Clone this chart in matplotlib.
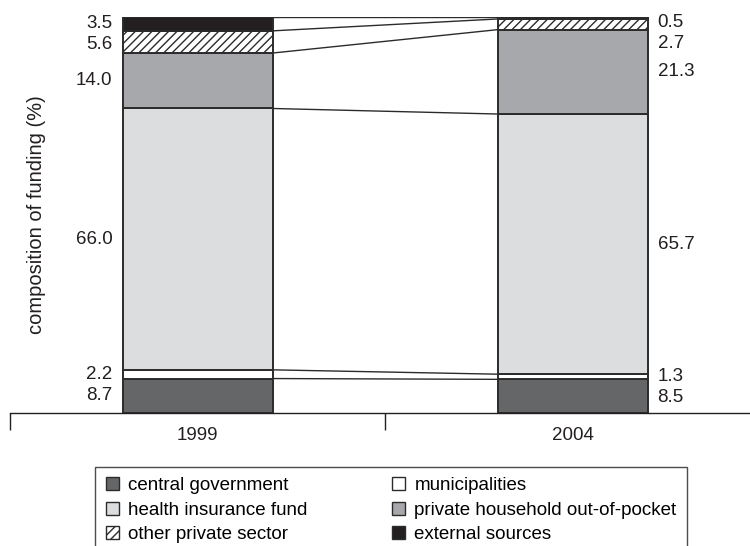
import matplotlib
matplotlib.use("Agg")
import matplotlib.pyplot as plt
from matplotlib.patches import Patch

plt.rcParams['font.family'] = ['Liberation Sans', 'DejaVu Sans']
plt.rcParams['hatch.linewidth'] = 1.0

years = ['1999', '2004']
sources = ['central government', 'municipalities', 'health insurance fund',
           'private household out-of-pocket', 'other private sector', 'external sources']
values_1999 = [8.7, 2.2, 66.0, 14.0, 5.6, 3.5]
values_2004 = [8.5, 1.3, 65.7, 21.3, 2.7, 0.5]
colors = ['#656668', '#ffffff', '#dcdddf', '#a7a8ab', '#ffffff', '#231f20']
hatches = [None, None, None, None, '////', None]

fig = plt.figure(figsize=(7.5, 5.46), dpi=100)
ax = fig.add_axes([10 / 750, (546 - 413) / 546, 750 / 750, (413 - 17) / 546])

xpos = [0.5, 1.5]
width = 0.4
edge = '#2b2b2b'
fs = 13.5


def cum(vals):
    out = [0]
    for v in vals:
        out.append(out[-1] + v)
    return out


def spread(centers, gap=5.3, top=98.7):
    # push labels apart from the top down
    ys = []
    prev = None
    for c in centers[::-1]:
        y = min(c, top) if prev is None else min(c, prev - gap)
        ys.append(y)
        prev = y
    return ys[::-1]


for x, vals in zip(xpos, [values_1999, values_2004]):
    bottoms = cum(vals)
    for v, b, c, h in zip(vals, bottoms, colors, hatches):
        ax.bar(x, v, width=width, bottom=b, color=c, edgecolor=edge,
               linewidth=1.4, hatch=h, zorder=2)

# connecting lines between the bars
c99 = cum(values_1999)
c04 = cum(values_2004)
for a, b in zip(c99[1:], c04[1:]):
    ax.plot([xpos[0] + width / 2, xpos[1] - width / 2], [a, b],
            color='#2b2b2b', lw=1.0, zorder=1)

# value labels
cen99 = [b + v / 2 for v, b in zip(values_1999, c99)]
cen04 = [b + v / 2 for v, b in zip(values_2004, c04)]
for v, y in zip(values_1999, spread(cen99)):
    ax.text(xpos[0] - width / 2 - 0.027, y, f'{v:.1f}', ha='right', va='center',
            fontsize=fs, color='#231f20')
for v, y in zip(values_2004, spread(cen04)):
    ax.text(xpos[1] + width / 2 + 0.027, y, f'{v:.1f}', ha='left', va='center',
            fontsize=fs, color='#231f20')

ax.set_xlim(0, 2)
ax.set_ylim(0, 100)
ax.set_xticks([0, 1, 2])
ax.set_xticklabels(['', '', ''])
ax.set_xticks(xpos, minor=True)
ax.set_xticklabels(years, minor=True, fontsize=fs, color='#231f20')
ax.tick_params(axis='x', which='major', length=12, width=1, color='#231f20', direction='out')
ax.tick_params(axis='x', which='minor', length=0, pad=10)
ax.set_yticks([])
for s in ['left', 'right', 'top']:
    ax.spines[s].set_visible(False)
ax.spines['bottom'].set_color('#231f20')
ax.spines['bottom'].set_linewidth(1)

fig.text(37 / 750, 1 - 215 / 546, 'composition of funding (%)', rotation=90,
         ha='center', va='center', fontsize=14.5, color='#231f20')

order = [0, 2, 4, 1, 3, 5]
handles = [Patch(facecolor=colors[i], edgecolor=edge, hatch=hatches[i], linewidth=1)
           for i in order]
labels = [sources[i] for i in order]
leg = fig.legend(handles, labels, ncol=2, loc='upper center',
                 bbox_to_anchor=(391 / 750, 1 - 467 / 546), frameon=True,
                 fancybox=False, edgecolor='#231f20', fontsize=fs,
                 handlelength=0.7, handleheight=0.7, handletextpad=0.5,
                 columnspacing=4.5, borderpad=0.55, labelspacing=0.38,
                 borderaxespad=0)
leg.get_frame().set_linewidth(1)

fig.savefig('out.png', dpi=100)
